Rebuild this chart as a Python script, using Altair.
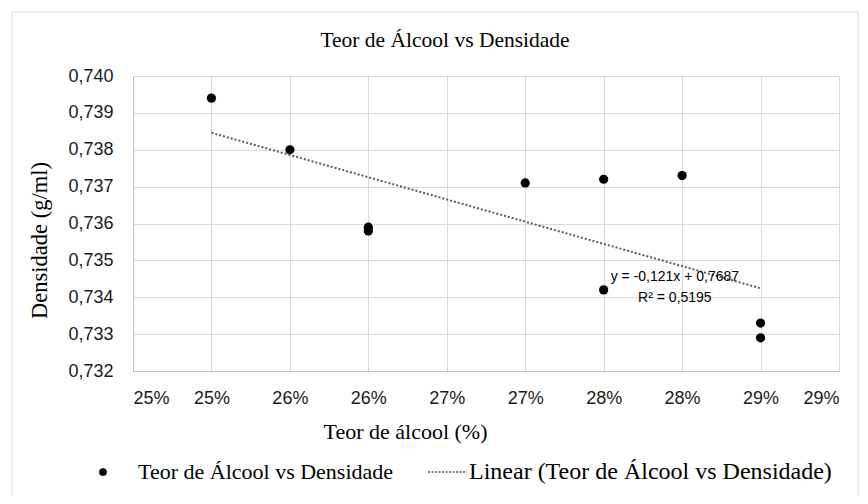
import altair as alt
import pandas as pd

# ---- data ----
teor = [0.25, 0.255, 0.26, 0.26, 0.27, 0.275, 0.275, 0.28, 0.285, 0.285]
densidade = [0.7394, 0.7380, 0.7359, 0.7358, 0.7371, 0.7372, 0.7342, 0.7373, 0.7333, 0.7329]

x_ticks = [0.245, 0.25, 0.255, 0.26, 0.265, 0.27, 0.275, 0.28, 0.285, 0.29]
x_tick_labels = ["25%", "25%", "26%", "26%", "27%", "27%", "28%", "28%", "29%", "29%"]
y_ticks = [0.732, 0.733, 0.734, 0.735, 0.736, 0.737, 0.738, 0.739, 0.740]

eq_lines = ["y = -0,121x + 0,7687", "R² = 0,5195"]
eq_x = [0.27954, 0.27954]
eq_y = [0.73455, 0.73398]

title_text = "Teor de Álcool vs Densidade"
x_title = "Teor de álcool (%)"
y_title = "Densidade  (g/ml)"
legend_labels = ["Teor de Álcool vs Densidade", "Linear (Teor de Álcool vs Densidade)"]

W, H = 706, 295
SERIF = "Liberation Serif"
SANS = "Liberation Sans"

df = pd.DataFrame({"x": teor, "y": densidade})
eq_df = pd.DataFrame({"x": eq_x, "y": eq_y, "t": eq_lines})
one = pd.DataFrame({"a": [0]})

lab_arr = "[" + ",".join("'" + s + "'" for s in x_tick_labels) + "]"
x_label_expr = f"{lab_arr}[round((datum.value - {x_ticks[0]}) / {x_ticks[1]-x_ticks[0]:.3f})]"

xscale = alt.Scale(domain=[x_ticks[0], x_ticks[-1]], nice=False, zero=False)
yscale = alt.Scale(domain=[y_ticks[0], y_ticks[-1]], nice=False, zero=False)

xaxis = alt.Axis(values=x_ticks, labelExpr=x_label_expr, title=x_title,
                 titleFont=SERIF, titleFontSize=22, titleFontWeight="normal", titleColor="#000000",
                 titleX=272, titleY=50, titleAnchor="middle", titleAlign="center",
                 labelFont=SANS, labelFontSize=18, labelColor="#1a1a1a", labelPadding=18,
                 labelOverlap=False, ticks=False, domainColor="#bfbfbf", gridColor="#d9d9d9", grid=True)
yaxis = alt.Axis(values=y_ticks, labelExpr="replace(format(datum.value, '.3f'), '.', ',')",
                 title=y_title, titleFont=SERIF, titleFontSize=22.5, titleFontWeight="normal",
                 titleColor="#000000", titleX=-82, titleY=164, titleAngle=-90,
                 labelFont=SANS, labelFontSize=18, labelColor="#1a1a1a", labelPadding=20,
                 labelOverlap=False, ticks=False, domainColor="#bfbfbf", gridColor="#d9d9d9", grid=True)

base = alt.Chart(df)

X = alt.X("x:Q", scale=xscale, axis=xaxis)
Y = alt.Y("y:Q", scale=yscale, axis=yaxis)

points = base.mark_point(filled=True, color="#000000", size=85, opacity=1).encode(x=X, y=Y)

trend = base.transform_regression("x", "y").mark_line(
    color="#595959", strokeWidth=2, strokeDash=[2, 2]
).encode(x=X, y=Y)

eq = alt.Chart(eq_df).mark_text(font=SANS, fontSize=14, color="#000000", align="center",
                                baseline="middle").encode(x=X, y=Y, text="t:N")

frame = alt.Chart(one).mark_rect(fill=None, stroke="#d9d9d9", strokeWidth=1).encode(
    x=alt.value(-121), x2=alt.value(725), y=alt.value(-64), y2=alt.value(421))

title = alt.Chart(one).mark_text(text=title_text, font=SERIF, fontSize=21.5, color="#000000",
                                 align="center", baseline="alphabetic").encode(
    x=alt.value(312), y=alt.value(-29))

leg_dot = alt.Chart(one).mark_point(filled=True, color="#000000", size=60, opacity=1).encode(
    x=alt.value(-30), y=alt.value(396))
leg_t1 = alt.Chart(one).mark_text(text=legend_labels[0], font=SERIF, fontSize=22, color="#000000",
                                  align="left", baseline="middle").encode(
    x=alt.value(5), y=alt.value(396))
leg_line = alt.Chart(one).mark_rule(color="#595959", strokeWidth=1.5, strokeDash=[2, 1.5]).encode(
    x=alt.value(295), x2=alt.value(334), y=alt.value(396))
leg_t2 = alt.Chart(one).mark_text(text=legend_labels[1], font=SERIF, fontSize=24, color="#000000",
                                  align="left", baseline="middle").encode(
    x=alt.value(336), y=alt.value(396))

chart = alt.layer(points, trend, eq, frame, title, leg_dot, leg_t1, leg_line, leg_t2).properties(
    width=W, height=H,
    autosize=alt.AutoSizeParams(type="none"),
    padding={"left": 125, "top": 68, "right": 21, "bottom": 125},
    background="#ffffff",
).configure_view(stroke=None)

chart.save("out.html", embed_options={"renderer": "svg", "actions": False})
